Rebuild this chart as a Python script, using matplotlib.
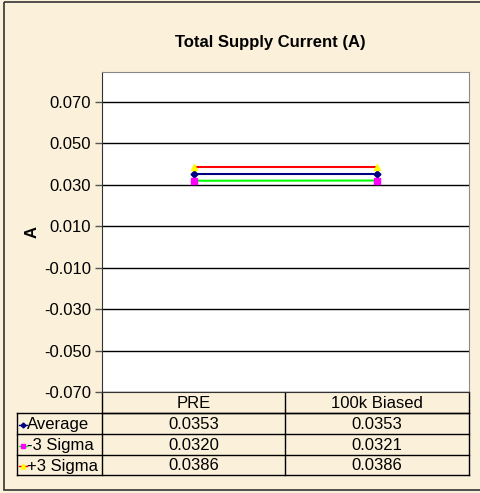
import matplotlib
matplotlib.use('Agg')
import matplotlib.pyplot as plt
from matplotlib.lines import Line2D
from matplotlib.patches import Rectangle

plt.rcParams['font.family'] = ['Liberation Sans', 'DejaVu Sans']

# data
categories = ['PRE', '100k Biased']
series_names = ['Average', '-3 Sigma', '+3 Sigma']
average = [0.0353, 0.0353]
minus3 = [0.0320, 0.0321]
plus3 = [0.0386, 0.0386]
yticks = [-0.070, -0.050, -0.030, -0.010, 0.010, 0.030, 0.050, 0.070]

W, H = 480, 493
bg = '#FBF0DA'
fs = 12
fig = plt.figure(figsize=(W / 100, H / 100), dpi=100, facecolor=bg)

# pixel helper axes covering the figure (for frame and table)
pax = fig.add_axes([0, 0, 1, 1], facecolor='none')
pax.set_xlim(0, W)
pax.set_ylim(H, 0)
pax.axis('off')
pax.add_patch(Rectangle((4, 2), 490, 488, fill=False, edgecolor='#333333', lw=1.2))

# main plot area
L, R, T, B = 102, 469, 72, 392
ax = fig.add_axes([L / W, 1 - B / H, (R - L) / W, (B - T) / H], facecolor='white')
ax.set_xlim(-0.5, 1.5)
ax.set_ylim(-0.070, 0.0845)
ax.set_yticks(yticks)
ax.set_yticklabels(['%.3f' % v for v in yticks], fontsize=fs)
ax.set_xticks([])
ax.yaxis.grid(True, color='black', lw=1)
ax.set_axisbelow(True)
ax.tick_params(axis='y', length=5, width=1, color='#555555', pad=3)
for s in ['top', 'right']:
    ax.spines[s].set_color('#888888')
ax.spines['left'].set_color('#333333')
ax.spines['bottom'].set_color('#333333')
ax.set_ylabel('A', fontsize=fs, fontweight='bold', labelpad=3)

x = list(range(len(categories)))
styles = [
    dict(color='#000080', marker='D', mfc='#000080', mec='#000080', ms=3.5),
    dict(color='#00FF00', marker='s', mfc='#FF00FF', mec='#FF00FF', ms=4.5),
    dict(color='#FF0000', marker='^', mfc='#FFFF00', mec='#FFFF00', ms=4.5),
]
for vals, st in zip([average, minus3, plus3], styles):
    ax.plot(x, vals, lw=1.5, clip_on=False, zorder=3, **st)

fig.text(270 / W, 1 - 43 / H, 'Total Supply Current (A)', ha='center', va='center',
         fontsize=fs, fontweight='bold')

# data table below the plot
col_edges = [L, 285, R]
row_edges = [B, 413, 434, 455, 475]
lab_left = 17
lc = 'black'
pax.plot([L, R], [row_edges[1], row_edges[1]], color=lc, lw=1)
for yy in row_edges[1:]:
    pax.plot([lab_left, R], [yy, yy], color=lc, lw=1)
for xx in col_edges:
    pax.plot([xx, xx], [B, row_edges[-1]], color=lc, lw=1)
pax.plot([lab_left, lab_left], [row_edges[1], row_edges[-1]], color=lc, lw=1)

for j, cat in enumerate(categories):
    cx = (col_edges[j] + col_edges[j + 1]) / 2
    pax.text(cx, (row_edges[0] + row_edges[1]) / 2 + 1, cat, ha='center', va='center', fontsize=fs)

for i, (name, vals, st) in enumerate(zip(series_names, [average, minus3, plus3], styles)):
    cy = (row_edges[i + 1] + row_edges[i + 2]) / 2 + 1
    pax.add_line(Line2D([19, 27], [cy, cy], color=st['color'], lw=1))
    pax.add_line(Line2D([23], [cy], marker=st['marker'], mfc=st['mfc'], mec=st['mec'],
                        ms=st['ms'] - 1, lw=0))
    pax.text(27, cy, name, ha='left', va='center', fontsize=fs)
    for j, v in enumerate(vals):
        cx = (col_edges[j] + col_edges[j + 1]) / 2
        pax.text(cx, cy, '%.4f' % v, ha='center', va='center', fontsize=fs)

fig.savefig('out.png', dpi=100, facecolor=bg)
